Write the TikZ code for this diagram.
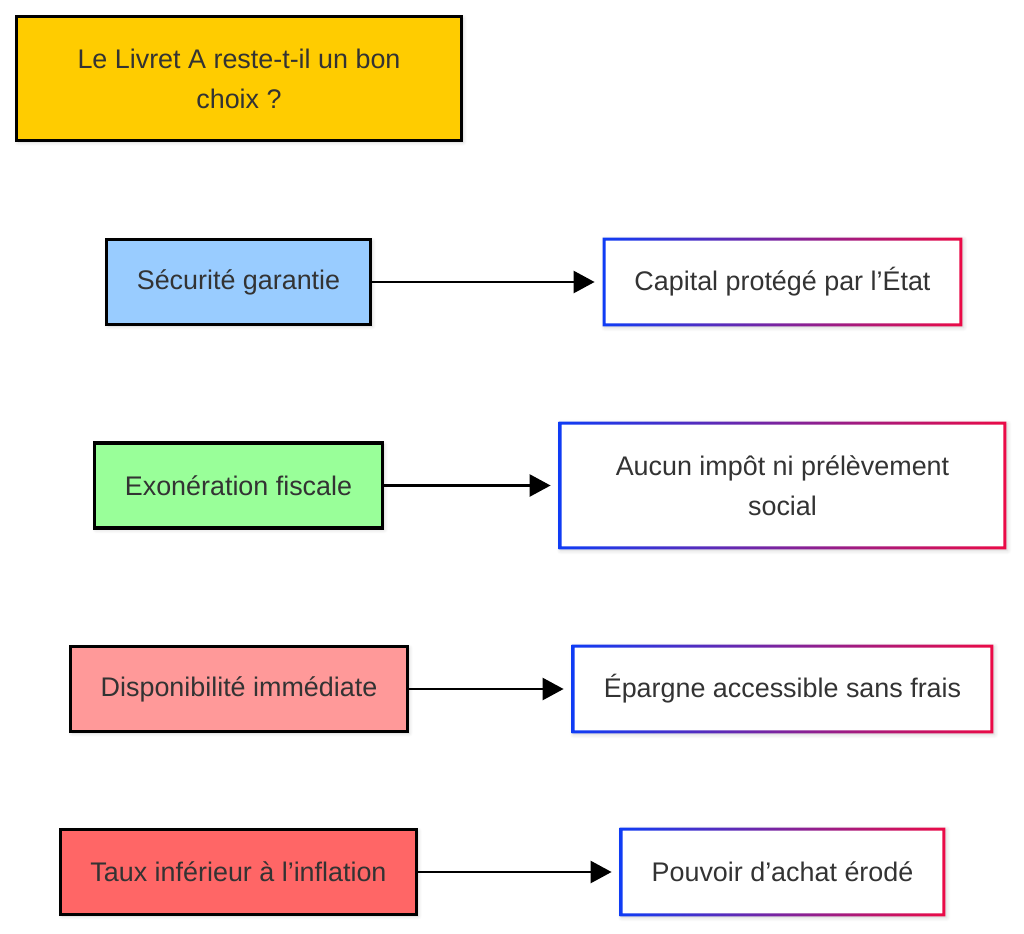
\documentclass[tikz,border=0pt]{standalone}
\usepackage{fontspec}
\setmainfont{Liberation Sans}
\usetikzlibrary{arrows.meta,shadows.blur}

\definecolor{titlegold}{HTML}{FFCC00}
\definecolor{secublue}{HTML}{99CCFF}
\definecolor{exogreen}{HTML}{99FF99}
\definecolor{disppink}{HTML}{FF9999}
\definecolor{tauxred}{HTML}{FF6666}
\definecolor{textgray}{HTML}{333333}
\definecolor{gblue}{RGB}{15,60,245}
\definecolor{gred}{RGB}{235,10,70}

\tikzset{
    softshadow/.style={blur shadow={shadow xshift=0.8pt, shadow yshift=-0.8pt, shadow blur steps=6, shadow blur radius=2pt, shadow opacity=18}},
    causebox/.style={draw=black, line width=1.6pt, text=textgray, inner sep=0pt, minimum height=42.5pt, align=center, softshadow},
    effectbox/.style={fill=white, text=textgray, inner sep=0pt, minimum height=44pt, align=center, softshadow},
    link/.style={-{Triangle[length=10.5pt,width=11pt]}, line width=1.3pt, shorten >=4pt}
}

\begin{document}
\begin{tikzpicture}[x=0.5pt, y=-0.5pt, font=\fontsize{13.45}{20}\selectfont]
    \useasboundingbox (0,0) rectangle (1024,933);

    \node[causebox, fill=titlegold, minimum width=222.5pt, minimum height=62pt] (titre) at (239,78.5) {Le Livret A reste-t-il un bon\\choix ?};

    \node[causebox, fill=secublue, minimum width=132pt] (secu) at (238.5,282) {Sécurité garantie};
    \node[causebox, fill=exogreen, minimum width=144pt] (exo) at (238.5,485.5) {Exonération fiscale};
    \node[causebox, fill=disppink, minimum width=168.5pt] (dispo) at (239,689) {Disponibilité immédiate};
    \node[causebox, fill=tauxred, minimum width=178pt] (taux) at (238.5,872) {Taux inférieur à l’inflation};

    \node[effectbox, minimum width=179.5pt] (capital) at (782.5,282) {Capital protégé par l’État};
    \node[effectbox, minimum width=223.5pt, minimum height=63.5pt] (impot) at (782.5,485.5) {Aucun impôt ni prélèvement\\social};
    \node[effectbox, minimum width=210.5pt] (epargne) at (782.5,689) {Épargne accessible sans frais};
    \node[effectbox, minimum width=162.5pt] (pouvoir) at (782.5,872) {Pouvoir d’achat érodé};

    % bordures en degrade
    \foreach \b in {capital,impot,epargne,pouvoir}
        \shade[left color=gblue, right color=gred, even odd rule]
            (\b.south west) rectangle (\b.north east)
            ([xshift=1.5pt,yshift=1.5pt]\b.south west) rectangle ([xshift=-1.5pt,yshift=-1.5pt]\b.north east);

    \draw[link] (secu.east) -- (capital.west);
    \draw[link] (exo.east) -- (impot.west);
    \draw[link] (dispo.east) -- (epargne.west);
    \draw[link] (taux.east) -- (pouvoir.west);
\end{tikzpicture}
\end{document}
